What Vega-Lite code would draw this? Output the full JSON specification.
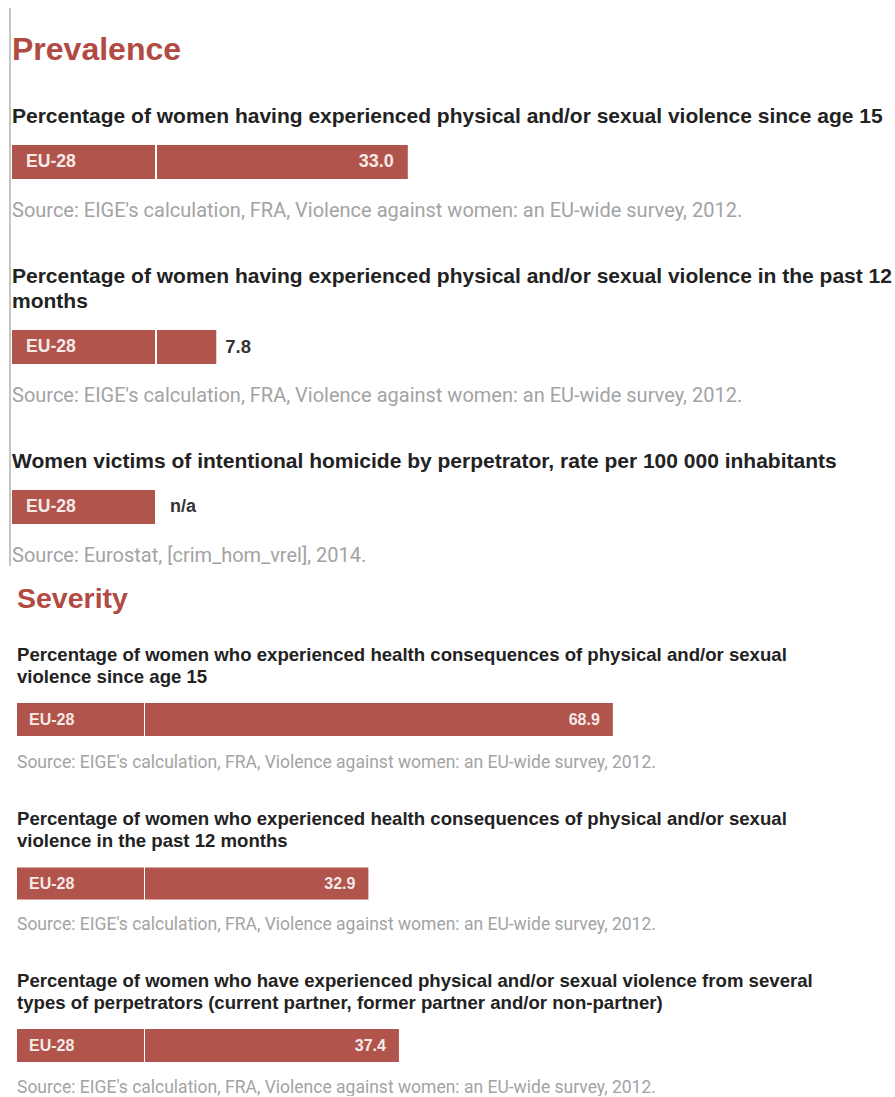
{
  "$schema": "https://vega.github.io/schema/vega-lite/v6.json",
  "padding": {"left": 9, "top": 7, "right": 0, "bottom": 0},
  "background": "white",
  "config": {"view": {"stroke": null}, "font": "Roboto", "title": {"font": "Liberation Sans", "anchor": "start", "frame": "bounds"}},
  "datasets": {
    "rows": [
      {"id": 1, "section": "Prevalence", "region": "EU-28", "value": 33.0, "label": "33.0"},
      {"id": 2, "section": "Prevalence", "region": "EU-28", "value": 7.8, "label": "7.8"},
      {"id": 3, "section": "Prevalence", "region": "EU-28", "value": null, "label": "n/a"},
      {"id": 4, "section": "Severity", "region": "EU-28", "value": 68.9, "label": "68.9"},
      {"id": 5, "section": "Severity", "region": "EU-28", "value": 32.9, "label": "32.9"},
      {"id": 6, "section": "Severity", "region": "EU-28", "value": 37.4, "label": "37.4"}
    ]
  },
  "spacing": 17,
  "vconcat": [
    {
      "spacing": 1,
      "hconcat": [
        {
          "width": 1, "height": 558,
          "data": {"values": [{}]},
          "mark": {"type": "rule", "color": "#8c8c8c", "strokeWidth": 1},
          "encoding": {"x": {"datum": 0, "type": "quantitative", "scale": {"domain": [0, 1]}, "axis": null}}
        },
        {
          "spacing": 39,
          "vconcat": [
            {
              "width": 300, "height": 58.5,
              "data": {"name": "rows"},
              "transform": [{"filter": "datum.id == 1"}],
              "mark": {"type": "text", "align": "left", "baseline": "bottom", "font": "Liberation Sans", "fontWeight": "bold", "fontSize": 32, "color": "#b24a44"},
              "encoding": {
                "x": {"datum": 0, "type": "quantitative", "scale": {"domain": [0, 1]}, "axis": null},
                "y": {"datum": 0, "type": "quantitative", "scale": {"domain": [0, 1]}, "axis": null},
                "text": {"field": "section"}
              }
            },
            {
              "spacing": 45,
              "vconcat": [
                {
                  "title": {"text": "Percentage of women having experienced physical and/or sexual violence since age 15", "fontSize": 21, "fontWeight": "bold", "color": "#222222", "offset": 17.6},
                  "vconcat": [
                    {
                      "title": {"text": "Source: EIGE's calculation, FRA, Violence against women: an EU-wide survey, 2012.", "orient": "bottom", "font": "Roboto", "fontSize": 20, "fontWeight": "normal", "color": "#a3a3a3", "offset": 21.5},
                      "spacing": 2,
                      "hconcat": [
                        {
                          "width": 143, "height": 34,
                          "view": {"fill": "#b1544b", "stroke": null},
                          "data": {"name": "rows"},
                          "transform": [{"filter": "datum.id == 1"}],
                          "mark": {"type": "text", "align": "left", "baseline": "middle", "dx": 14, "font": "Liberation Sans", "fontWeight": "bold", "fontSize": 17.6, "color": "#f6e9e7"},
                          "encoding": {
                            "x": {"datum": 0, "type": "quantitative", "scale": {"domain": [0, 1]}, "axis": null},
                            "y": {"field": "region", "type": "nominal", "axis": null, "scale": {"paddingInner": 0, "paddingOuter": 0}},
                            "text": {"field": "region"}
                          }
                        },
                        {
                          "width": 684, "height": 34,
                          "data": {"name": "rows"},
                          "transform": [{"filter": "datum.id == 1"}],
                          "encoding": {"y": {"field": "region", "type": "nominal", "axis": null, "scale": {"paddingInner": 0, "paddingOuter": 0}}},
                          "layer": [
                            {"mark": {"type": "bar", "color": "#b1544b"}, "encoding": {"x": {"field": "value", "type": "quantitative", "axis": null, "scale": {"domain": [0, 90]}}}},
                            {"mark": {"type": "text", "align": "right", "baseline": "middle", "dx": -14, "font": "Liberation Sans", "fontWeight": "bold", "fontSize": 18, "color": "#f6e9e7"}, "encoding": {"x": {"field": "value", "type": "quantitative"}, "text": {"field": "label"}}}
                          ]
                        }
                      ]
                    }
                  ]
                },
                {
                  "title": {"text": ["Percentage of women having experienced physical and/or sexual violence in the past 12", "months"], "fontSize": 21, "fontWeight": "bold", "color": "#222222", "lineHeight": 25, "offset": 17.6},
                  "vconcat": [
                    {
                      "title": {"text": "Source: EIGE's calculation, FRA, Violence against women: an EU-wide survey, 2012.", "orient": "bottom", "font": "Roboto", "fontSize": 20, "fontWeight": "normal", "color": "#a3a3a3", "offset": 21.5},
                      "spacing": 2,
                      "hconcat": [
                        {
                          "width": 143, "height": 34,
                          "view": {"fill": "#b1544b", "stroke": null},
                          "data": {"name": "rows"},
                          "transform": [{"filter": "datum.id == 2"}],
                          "mark": {"type": "text", "align": "left", "baseline": "middle", "dx": 14, "font": "Liberation Sans", "fontWeight": "bold", "fontSize": 17.6, "color": "#f6e9e7"},
                          "encoding": {
                            "x": {"datum": 0, "type": "quantitative", "scale": {"domain": [0, 1]}, "axis": null},
                            "y": {"field": "region", "type": "nominal", "axis": null, "scale": {"paddingInner": 0, "paddingOuter": 0}},
                            "text": {"field": "region"}
                          }
                        },
                        {
                          "width": 684, "height": 34,
                          "data": {"name": "rows"},
                          "transform": [{"filter": "datum.id == 2"}],
                          "encoding": {"y": {"field": "region", "type": "nominal", "axis": null, "scale": {"paddingInner": 0, "paddingOuter": 0}}},
                          "layer": [
                            {"mark": {"type": "bar", "color": "#b1544b"}, "encoding": {"x": {"field": "value", "type": "quantitative", "axis": null, "scale": {"domain": [0, 90]}}}},
                            {"mark": {"type": "text", "align": "left", "baseline": "middle", "dx": 9, "font": "Liberation Sans", "fontWeight": "bold", "fontSize": 18.5, "color": "#333333"}, "encoding": {"x": {"field": "value", "type": "quantitative"}, "text": {"field": "label"}}}
                          ]
                        }
                      ]
                    }
                  ]
                },
                {
                  "title": {"text": "Women victims of intentional homicide by perpetrator, rate per 100 000 inhabitants", "fontSize": 21, "fontWeight": "bold", "color": "#222222", "offset": 17.6},
                  "vconcat": [
                    {
                      "title": {"text": "Source: Eurostat, [crim_hom_vrel], 2014.", "orient": "bottom", "font": "Roboto", "fontSize": 20, "fontWeight": "normal", "color": "#a3a3a3", "offset": 21.5},
                      "spacing": 2,
                      "hconcat": [
                        {
                          "width": 143, "height": 34,
                          "view": {"fill": "#b1544b", "stroke": null},
                          "data": {"name": "rows"},
                          "transform": [{"filter": "datum.id == 3"}],
                          "mark": {"type": "text", "align": "left", "baseline": "middle", "dx": 14, "font": "Liberation Sans", "fontWeight": "bold", "fontSize": 17.6, "color": "#f6e9e7"},
                          "encoding": {
                            "x": {"datum": 0, "type": "quantitative", "scale": {"domain": [0, 1]}, "axis": null},
                            "y": {"field": "region", "type": "nominal", "axis": null, "scale": {"paddingInner": 0, "paddingOuter": 0}},
                            "text": {"field": "region"}
                          }
                        },
                        {
                          "width": 684, "height": 34,
                          "data": {"name": "rows"},
                          "transform": [{"filter": "datum.id == 3"}],
                          "encoding": {"y": {"field": "region", "type": "nominal", "axis": null, "scale": {"paddingInner": 0, "paddingOuter": 0}}},
                          "layer": [
                            {"mark": {"type": "bar", "color": "#b1544b"}, "encoding": {"x": {"field": "value", "type": "quantitative", "axis": null, "scale": {"domain": [0, 90]}}}},
                            {"mark": {"type": "text", "align": "left", "baseline": "middle", "dx": 13, "font": "Liberation Sans", "fontWeight": "bold", "fontSize": 18, "color": "#333333"}, "encoding": {"x": {"datum": 0, "type": "quantitative"}, "text": {"field": "label"}}}
                          ]
                        }
                      ]
                    }
                  ]
                }
              ]
            }
          ]
        }
      ]
    },
    {
      "spacing": 6,
      "hconcat": [
        {
          "width": 1, "height": 10,
          "data": {"values": []},
          "mark": {"type": "point", "opacity": 0},
          "encoding": {}
        },
        {
          "title": {"text": "Severity", "fontSize": 28.5, "fontWeight": "bold", "color": "#b24a44", "offset": 33},
          "spacing": 38.5,
          "vconcat": [
            {
              "title": {"text": ["Percentage of women who experienced health consequences of physical and/or sexual", "violence since age 15"], "fontSize": 18.6, "fontWeight": "bold", "color": "#222222", "lineHeight": 22, "offset": 16},
              "vconcat": [
                {
                  "title": {"text": "Source: EIGE's calculation, FRA, Violence against women: an EU-wide survey, 2012.", "orient": "bottom", "font": "Roboto", "fontSize": 17.5, "fontWeight": "normal", "color": "#a3a3a3", "offset": 17.5},
                  "spacing": 1,
                  "hconcat": [
                    {
                      "width": 127, "height": 33,
                      "view": {"fill": "#b1544b", "stroke": null},
                      "data": {"name": "rows"},
                      "transform": [{"filter": "datum.id == 4"}],
                      "mark": {"type": "text", "align": "left", "baseline": "middle", "dx": 12, "font": "Liberation Sans", "fontWeight": "bold", "fontSize": 16, "color": "#f6e9e7"},
                      "encoding": {
                        "x": {"datum": 0, "type": "quantitative", "scale": {"domain": [0, 1]}, "axis": null},
                        "y": {"field": "region", "type": "nominal", "axis": null, "scale": {"paddingInner": 0, "paddingOuter": 0}},
                        "text": {"field": "region"}
                      }
                    },
                    {
                      "width": 679, "height": 33,
                      "data": {"name": "rows"},
                      "transform": [{"filter": "datum.id == 4"}],
                      "encoding": {"y": {"field": "region", "type": "nominal", "axis": null, "scale": {"paddingInner": 0, "paddingOuter": 0}}},
                      "layer": [
                        {"mark": {"type": "bar", "color": "#b1544b"}, "encoding": {"x": {"field": "value", "type": "quantitative", "axis": null, "scale": {"domain": [0, 100]}}}},
                        {"mark": {"type": "text", "align": "right", "baseline": "middle", "dx": -13, "font": "Liberation Sans", "fontWeight": "bold", "fontSize": 16, "color": "#f6e9e7"}, "encoding": {"x": {"field": "value", "type": "quantitative"}, "text": {"field": "label"}}}
                      ]
                    }
                  ]
                }
              ]
            },
            {
              "title": {"text": ["Percentage of women who experienced health consequences of physical and/or sexual", "violence in the past 12 months"], "fontSize": 18.6, "fontWeight": "bold", "color": "#222222", "lineHeight": 22, "offset": 17},
              "vconcat": [
                {
                  "title": {"text": "Source: EIGE's calculation, FRA, Violence against women: an EU-wide survey, 2012.", "orient": "bottom", "font": "Roboto", "fontSize": 17.5, "fontWeight": "normal", "color": "#a3a3a3", "offset": 16},
                  "spacing": 1,
                  "hconcat": [
                    {
                      "width": 127, "height": 32,
                      "view": {"fill": "#b1544b", "stroke": null},
                      "data": {"name": "rows"},
                      "transform": [{"filter": "datum.id == 5"}],
                      "mark": {"type": "text", "align": "left", "baseline": "middle", "dx": 12, "font": "Liberation Sans", "fontWeight": "bold", "fontSize": 16, "color": "#f6e9e7"},
                      "encoding": {
                        "x": {"datum": 0, "type": "quantitative", "scale": {"domain": [0, 1]}, "axis": null},
                        "y": {"field": "region", "type": "nominal", "axis": null, "scale": {"paddingInner": 0, "paddingOuter": 0}},
                        "text": {"field": "region"}
                      }
                    },
                    {
                      "width": 679, "height": 32,
                      "data": {"name": "rows"},
                      "transform": [{"filter": "datum.id == 5"}],
                      "encoding": {"y": {"field": "region", "type": "nominal", "axis": null, "scale": {"paddingInner": 0, "paddingOuter": 0}}},
                      "layer": [
                        {"mark": {"type": "bar", "color": "#b1544b"}, "encoding": {"x": {"field": "value", "type": "quantitative", "axis": null, "scale": {"domain": [0, 100]}}}},
                        {"mark": {"type": "text", "align": "right", "baseline": "middle", "dx": -13, "font": "Liberation Sans", "fontWeight": "bold", "fontSize": 16, "color": "#f6e9e7"}, "encoding": {"x": {"field": "value", "type": "quantitative"}, "text": {"field": "label"}}}
                      ]
                    }
                  ]
                }
              ]
            },
            {
              "title": {"text": ["Percentage of women who have experienced physical and/or sexual violence from several", "types of perpetrators (current partner, former partner and/or non-partner)"], "fontSize": 18.6, "fontWeight": "bold", "color": "#222222", "lineHeight": 22, "offset": 16},
              "vconcat": [
                {
                  "title": {"text": "Source: EIGE's calculation, FRA, Violence against women: an EU-wide survey, 2012.", "orient": "bottom", "font": "Roboto", "fontSize": 17.5, "fontWeight": "normal", "color": "#a3a3a3", "offset": 16.5},
                  "spacing": 1,
                  "hconcat": [
                    {
                      "width": 127, "height": 33,
                      "view": {"fill": "#b1544b", "stroke": null},
                      "data": {"name": "rows"},
                      "transform": [{"filter": "datum.id == 6"}],
                      "mark": {"type": "text", "align": "left", "baseline": "middle", "dx": 12, "font": "Liberation Sans", "fontWeight": "bold", "fontSize": 16, "color": "#f6e9e7"},
                      "encoding": {
                        "x": {"datum": 0, "type": "quantitative", "scale": {"domain": [0, 1]}, "axis": null},
                        "y": {"field": "region", "type": "nominal", "axis": null, "scale": {"paddingInner": 0, "paddingOuter": 0}},
                        "text": {"field": "region"}
                      }
                    },
                    {
                      "width": 679, "height": 33,
                      "data": {"name": "rows"},
                      "transform": [{"filter": "datum.id == 6"}],
                      "encoding": {"y": {"field": "region", "type": "nominal", "axis": null, "scale": {"paddingInner": 0, "paddingOuter": 0}}},
                      "layer": [
                        {"mark": {"type": "bar", "color": "#b1544b"}, "encoding": {"x": {"field": "value", "type": "quantitative", "axis": null, "scale": {"domain": [0, 100]}}}},
                        {"mark": {"type": "text", "align": "right", "baseline": "middle", "dx": -13, "font": "Liberation Sans", "fontWeight": "bold", "fontSize": 16, "color": "#f6e9e7"}, "encoding": {"x": {"field": "value", "type": "quantitative"}, "text": {"field": "label"}}}
                      ]
                    }
                  ]
                }
              ]
            }
          ]
        }
      ]
    }
  ]
}
